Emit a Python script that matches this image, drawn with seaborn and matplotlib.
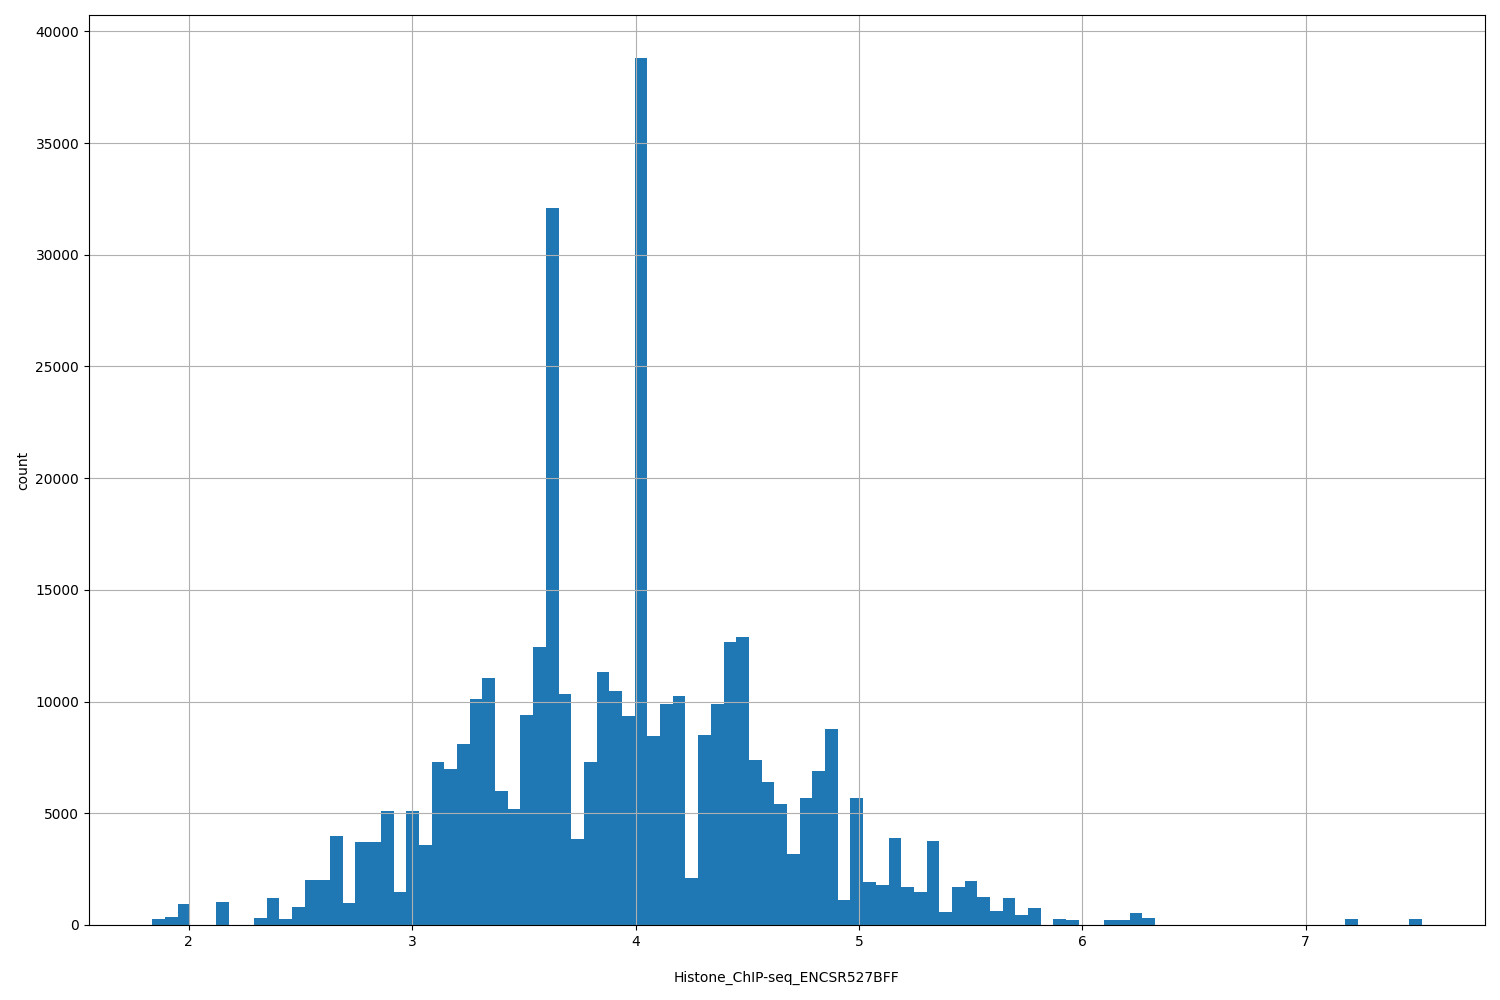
import numpy as np
import pandas as pd
import matplotlib
matplotlib.use("Agg")
import matplotlib.pyplot as plt
import seaborn as sns

# histogram range and bin count
x_min = 1.837
x_max = 7.519
n_bins = 100

# counts per bin, left to right
counts = [
    270, 360, 950, 0, 0, 1040, 0, 0, 320, 1210,
    270, 810, 2010, 2010, 3980, 990, 3710, 3710, 5100, 1480,
    5100, 3580, 7290, 6980, 8100, 10110, 11050, 6000, 5190, 9400,
    12440, 32080, 10340, 3850, 7290, 11320, 10470, 9350, 38790, 8460,
    9890, 10250, 2100, 8500, 9890, 12660, 12890, 7380, 6400, 5410,
    3180, 5680, 6890, 8770, 1120, 5680, 1920, 1790, 3890, 1700,
    1480, 3760, 580, 1700, 1970, 1250, 630, 1210, 450, 760,
    0, 270, 220, 0, 0, 220, 220, 540, 310, 0,
    0, 0, 0, 0, 0, 0, 0, 0, 0, 0,
    0, 0, 0, 0, 270, 0, 0, 0, 0, 270,
]

x_label = "Histone_ChIP-seq_ENCSR527BFF"
y_label = "count"

edges = np.linspace(x_min, x_max, n_bins + 1)
df = pd.DataFrame({
    "value": (edges[:-1] + edges[1:]) / 2,
    "count": counts,
})

fig, ax = plt.subplots(figsize=(15, 10), dpi=100)
fig.subplots_adjust(left=0.0593, right=0.99, top=0.985, bottom=0.075)

sns.histplot(data=df, x="value", weights="count", bins=n_bins,
             binrange=(x_min, x_max), ax=ax,
             color="#1f77b4", alpha=1, linewidth=0, edgecolor="none")

ax.grid(True)
ax.set_xlabel(x_label, labelpad=16)
ax.set_ylabel(y_label)

fig.savefig("out.png")
